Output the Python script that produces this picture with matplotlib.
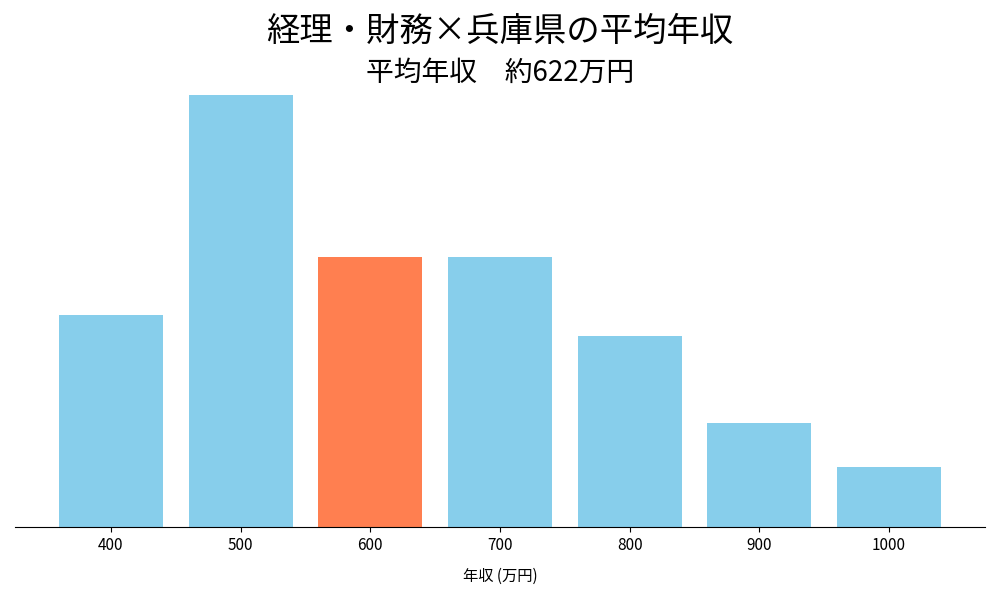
import matplotlib
matplotlib.use("Agg")
import matplotlib.pyplot as plt

plt.rcParams['font.family'] = ['Noto Sans CJK JP', 'DejaVu Sans']

categories = ["400", "500", "600", "700", "800", "900", "1000"]
values = [9.8, 20.0, 12.5, 12.5, 8.85, 4.8, 2.75]
highlight = "600"

colors = ["#FF7F50" if c == highlight else "#87CEEB" for c in categories]

fig = plt.figure(figsize=(10, 6), dpi=100)
ax = fig.add_axes([0.015, 0.122, 0.97, 0.72])
ax.bar(categories, values, color=colors, width=0.8)
ax.set_ylim(0, max(values))
ax.set_xlim(-0.74, 6.74)
for s in ["left", "top", "right"]:
    ax.spines[s].set_visible(False)
ax.set_yticks([])
ax.tick_params(axis='x', labelsize=11)
ax.set_xlabel("年収 (万円)", fontsize=11, labelpad=10)
fig.text(0.5, 0.948, "経理・財務×兵庫県の平均年収", ha='center', va='center', fontsize=24)
fig.text(0.5, 0.878, "平均年収　約622万円", ha='center', va='center', fontsize=20)
fig.savefig("out.png")
